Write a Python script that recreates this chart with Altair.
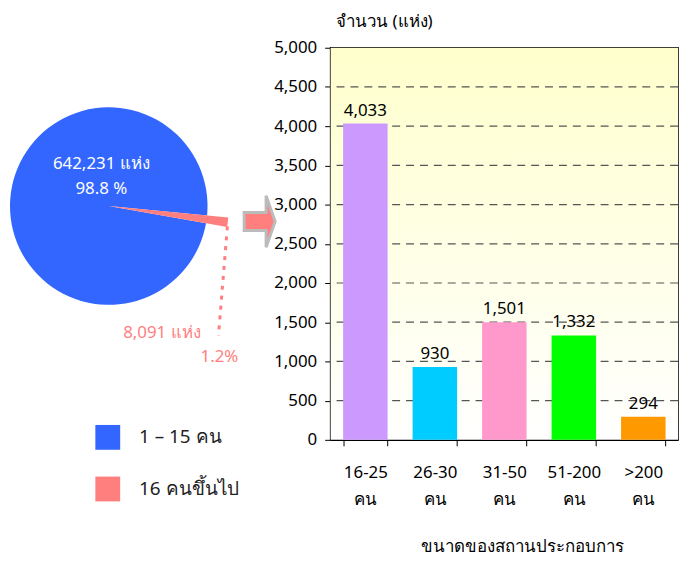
import math
import altair as alt
import pandas as pd

# ---- data ----
pie_groups = ["1 – 15 คน", "16 คนขึ้นไป"]
pie_counts = [642231, 8091]
pie_colors = ["#3366FF", "#FF7F7F"]

bar_cats = ["16-25 คน", "26-30 คน", "31-50 คน", "51-200 คน", ">200 คน"]
bar_values = [4033, 930, 1501, 1332, 294]
bar_colors = ["#CC99FF", "#00CCFF", "#FF99CC", "#00FF00", "#FF9900"]

y_ticks = [0, 500, 1000, 1500, 2000, 2500, 3000, 3500, 4000, 4500, 5000]
grid_vals = [500, 1000, 1500, 2000, 2500, 3000, 3500, 4000, 4500]

FONT = "Noto Sans"
FS = 17
W, H = 350, 395

bars_df = pd.DataFrame({"cat": bar_cats, "value": bar_values})
pie_df = pd.DataFrame({"group": pie_groups, "count": pie_counts})
grid_df = pd.DataFrame({"value": grid_vals})
one = pd.DataFrame({"a": [0]})

yaxis = alt.Axis(title="จำนวน (แห่ง)", values=y_ticks,
                 labelExpr="format(datum.value, ',')",
                 labelFontSize=FS, labelPadding=8, labelColor="black",
                 tickSize=6, tickColor="black", domainColor="black",
                 domainWidth=1.5, grid=False,
                 titleAngle=0, titleAlign="left", titleBaseline="middle",
                 titleX=5, titleY=-26, titleFontSize=FS, titleColor="black",
                 titleFontWeight="normal")
yscale = alt.Scale(domain=[0, 5000], nice=False)

xs = alt.X("cat:N", sort=bar_cats,
           scale=alt.Scale(paddingInner=0.36, paddingOuter=0.18),
           axis=alt.Axis(title="ขนาดของสถานประกอบการ", labelAngle=0,
                         labelExpr="split(datum.label, ' ')",
                         labelFontSize=FS, labelLineHeight=27, labelPadding=19,
                         labelColor="black", tickBand="extent", tickSize=6,
                         tickColor="black", domainColor="black", domainWidth=1.5,
                         titleFontSize=FS, titleFontWeight="normal", titleColor="black",
                         titleX=193, titleY=107, titleBaseline="middle",
                         titleAlign="center", grid=False))
ys = alt.Y("value:Q", scale=yscale, axis=yaxis)

background = alt.Chart(one).mark_rect(
    color=alt.Gradient(gradient="linear", x1=0, y1=0, x2=0, y2=1,
                       stops=[alt.GradientStop(offset=0, color="#FFFFCC"),
                              alt.GradientStop(offset=1, color="#FFFFFF")])
).encode(x=alt.value(0), x2=alt.value(W), y=alt.value(0), y2=alt.value(H))

grid = alt.Chart(grid_df).mark_rule(color="#555555", strokeDash=[8, 6], strokeWidth=1.2).encode(
    y=ys
)

bars = alt.Chart(bars_df).mark_bar().encode(
    x=xs, y=ys,
    fill=alt.Fill("cat:N", scale=alt.Scale(domain=bar_cats, range=bar_colors), legend=None),
)
bar_labels = alt.Chart(bars_df).mark_text(
    baseline="bottom", dy=-4, fontSize=FS, color="black"
).encode(x=alt.X("cat:N", sort=bar_cats), y=ys, text=alt.Text("value:Q", format=","))

# ---- pie ----
start = math.radians(95.5)
cx, cy = 109.5 - 333, 205.5 - 46

def pie_layer(group, radius):
    return alt.Chart(pie_df).transform_joinaggregate(
        total="sum(count)"
    ).transform_window(
        cum="sum(count)", sort=[alt.SortField("count", order="ascending")]
    ).transform_calculate(
        t0="(datum.cum - datum.count) / datum.total", t1="datum.cum / datum.total"
    ).transform_filter(
        alt.datum.group == group
    ).mark_arc(radius=radius).encode(
        theta=alt.Theta("t0:Q", scale=alt.Scale(domain=[0, 1], range=[start, start + 2 * math.pi])),
        theta2="t1:Q",
        x=alt.value(cx), y=alt.value(cy),
        color=alt.Color("group:N", scale=alt.Scale(domain=pie_groups, range=pie_colors),
                        legend=alt.Legend(title=None, orient="none", legendX=-237, legendY=380,
                                          symbolType="square", symbolSize=625, symbolStrokeWidth=0,
                                          labelFontSize=19, labelOffset=19, rowPadding=27,
                                          labelColor="#222222")),
    )

blue = pie_layer(pie_groups[0], 99.5)
pink = pie_layer(pie_groups[1], 121)

pie_text = alt.Chart(pd.DataFrame({
    "t": [f"{pie_counts[0]:,} แห่ง", "98.8 %"],
    "px": [102 - 333, 102 - 333], "py": [163 - 46, 188 - 46]})).mark_text(
    fontSize=FS, color="white", baseline="middle", align="center"
).encode(x=alt.X("px:Q", scale=None), y=alt.Y("py:Q", scale=None), text="t:N")

pink_text = alt.Chart(pd.DataFrame({
    "t": [f"{pie_counts[1]:,} แห่ง", "1.2%"],
    "px": [163 - 333, 221 - 333], "py": [333 - 46, 358 - 46]})).mark_text(
    fontSize=FS, color="#FF7F7F", baseline="middle", align="center"
).encode(x=alt.X("px:Q", scale=None), y=alt.Y("py:Q", scale=None), text="t:N")

leader = alt.Chart(one).mark_rule(color="#FF7F7F", strokeWidth=3, strokeDash=[4, 6]).encode(
    x=alt.value(229 - 333), y=alt.value(226 - 46), x2=alt.value(220 - 333), y2=alt.value(336 - 46)
)

arrow_path = "M -0.6 -0.35 L 0.25 -0.35 L 0.25 -1 L 0.6 0 L 0.25 1 L 0.25 0.35 L -0.6 0.35 Z"
arrow = alt.Chart(one).mark_point(
    shape=arrow_path, filled=True, fill="#FF7F7F", stroke="#BBBBBB", strokeWidth=3,
    size=2704, opacity=1
).encode(x=alt.value(261.5 - 333), y=alt.value(221 - 46))

chart = alt.layer(
    background, grid, bars, bar_labels, blue, pink, pie_text, pink_text, leader, arrow
).properties(
    width=W, height=H,
    autosize=alt.AutoSizeParams(type="none"),
    padding={"left": 325, "top": 38, "right": 8, "bottom": 118},
).configure(font=FONT).configure_view(stroke="black", strokeWidth=1.5)

chart.save("out.html", embed_options={"renderer": "svg", "actions": False})
